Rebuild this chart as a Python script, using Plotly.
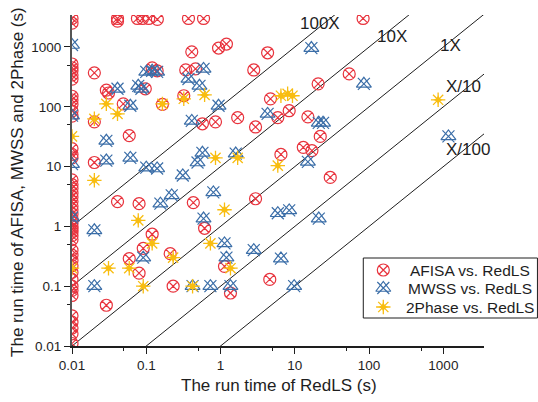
import plotly.graph_objects as go

# ---------------- data (seconds) ----------------
afisa_x = [0.041, 0.041, 0.076, 0.089, 0.108, 0.141, 0.37, 0.59, 83,
           0.94, 1.2, 0.41, 4.3, 2.8, 54, 20.6, 4.7, 5.9, 8.4, 15, 22, 13, 17, 6.5, 30,
           2.96, 2.96, 0.61, 0.57, 0.855, 1.7, 0.02, 0.029, 0.031, 0.049, 0.12, 0.14,
           0.097, 0.32, 0.34, 0.46, 0.165, 0.02, 0.059, 0.02, 0.041, 0.08, 0.43, 0.12,
           0.091, 0.059, 0.08, 0.21, 0.23, 0.029, 1.13, 1.36, 4.6,
           0.01, 0.01, 0.01, 0.01, 0.01, 0.01, 0.01, 0.01, 0.01, 0.01, 0.01, 0.01,
           0.01, 0.01, 0.01, 0.01, 0.01, 0.01, 0.01, 0.01, 0.01, 0.01, 0.01, 0.01,
           0.01, 0.01, 0.01, 0.01, 0.01, 0.01, 0.01, 0.01, 0.01, 0.01, 0.01, 0.01,
           0.01, 0.01, 0.01, 0.01, 0.01, 0.01, 0.01, 0.01, 0.01]
afisa_y = [3000, 2700, 3000, 3000, 3000, 2900, 3000, 3000, 3000,
           960, 1120, 830, 800, 413, 355, 242, 136, 66, 86, 68, 32, 21, 18.5, 16, 6.6,
           46, 2.9, 0.93, 52, 56, 66, 370, 190, 170, 112, 447, 400,
           200, 153, 414, 430, 110, 56, 33, 11.7, 2.6, 2.4, 2.5, 0.74,
           0.43, 0.29, 0.165, 0.35, 0.1, 0.048, 0.215, 0.077, 0.13,
           3000, 2500, 520, 450, 400, 340, 290, 150, 130, 110, 85, 70,
           20, 16, 14, 6, 5, 4.3, 3.6, 3.1, 2.6, 2.2, 1.9, 1.6,
           1.35, 1.15, 1.0, 0.9, 0.8, 0.7, 0.6, 0.4, 0.33, 0.27, 0.22, 0.17,
           0.13, 0.1, 0.085, 0.07, 0.032, 0.025, 0.02, 0.016, 0.011]

mwss_x = [0.01, 0.01, 0.01, 0.01,
          0.041, 0.078, 0.086, 0.1, 0.12, 0.14, 0.061, 0.37, 0.59, 0.52, 0.41, 0.94,
          0.029, 0.029, 0.061, 0.1, 0.14, 0.31, 0.49, 0.57, 0.22, 0.8, 1.6, 0.155,
          0.02, 0.59, 0.02, 0.091, 0.42, 0.73, 1.36, 1.13, 1.2, 2.8, 6.5, 9.8,
          5.9, 8.4, 21, 15, 21, 24, 4.3, 16.7, 85, 1170]
mwss_y = [1080, 71, 11, 1.4,
          200, 224, 200, 383, 400, 383, 104, 292, 430, 224, 58, 104,
          27, 12.6, 14, 9.6, 9.3, 7.1, 11.7, 17, 3.3, 3.7, 16.5, 2.4,
          0.86, 1.35, 0.1, 0.3, 0.1, 0.1, 0.1, 0.52, 0.3, 0.4, 0.29, 0.1,
          1.66, 1.85, 1.35, 12, 54, 54, 76, 960, 242, 32]

twophase_x = [0.02, 0.029, 0.041, 0.165, 0.32, 0.61, 0.02, 0.855, 1.7, 5.9,
              1.13, 6.5, 8.0, 9.3, 850, 0.078, 0.01, 0.12, 0.031, 0.059,
              0.091, 0.23, 0.42, 0.73, 1.36, 0.01]
twophase_y = [63, 112, 76, 112, 136, 158, 5.9, 14, 14, 10.4,
              1.9, 153, 165, 153, 131, 1.26, 32, 0.52, 0.2, 0.2,
              0.1, 0.3, 0.1, 0.52, 0.2, 0.2]

ratio_factors = [100, 10, 1, 0.1, 0.01]
ratio_labels = ["100X", "10X", "1X", "X/10", "X/100"]
line_x = [0.01, 5000]

x_ticks = [0.01, 0.1, 1, 10, 100, 1000]
x_ticktext = ["0.01", "0.1", "1", "10", "100", "1000"]
y_ticks = [0.01, 0.1, 1, 10, 100, 1000]
y_ticktext = ["0.01", "0.1", "1", "10", "100", "1000"]
minor_ticks = [0.05, 0.5, 5, 50, 500]

series_names = ["AFISA vs. RedLS", "MWSS vs. RedLS", "2Phase vs. RedLS"]

# ---------------- styles ----------------
RED = "#e8333d"
BLUE = "#3b6ea8"
YELLOW = "#f8bd10"
INK = "#1e1e1e"
FONT = "Arial, 'Liberation Sans', sans-serif"

# layout geometry (pixels)
W, H = 538, 402
ML, MR, MT, MB = 72, 54.4, 15, 56
PW, PH = W - ML - MR, H - MT - MB


def px2paper(px, py):
    return (px - ML) / PW, (H - MB - py) / PH


fig = go.Figure()

# diagonal reference lines
for k in ratio_factors:
    fig.add_trace(go.Scatter(x=line_x, y=[k * v for v in line_x], mode="lines",
                             line=dict(color=INK, width=1), hoverinfo="skip",
                             showlegend=False))

red_marker = dict(symbol="circle-x-open", size=12, color=RED, line=dict(width=1.2, color=RED))
blue_tri = dict(symbol="triangle-up-open", size=13, color=BLUE, line=dict(width=1.2, color=BLUE))
blue_x = dict(symbol="x-thin-open", size=12, color=BLUE, line=dict(width=1.2, color=BLUE))
yel_ast = dict(symbol="asterisk-open", size=12, color=YELLOW, line=dict(width=1.3, color=YELLOW))
yel_star = dict(symbol="star-diamond", size=7, color=YELLOW, line=dict(width=0, color=YELLOW))

fig.add_trace(go.Scatter(x=afisa_x, y=afisa_y, mode="markers", marker=red_marker, showlegend=False))
fig.add_trace(go.Scatter(x=mwss_x, y=mwss_y, mode="markers", marker=blue_tri, showlegend=False))
fig.add_trace(go.Scatter(x=mwss_x, y=mwss_y, mode="markers", marker=blue_x, showlegend=False))
fig.add_trace(go.Scatter(x=twophase_x, y=twophase_y, mode="markers", marker=yel_ast, showlegend=False))
fig.add_trace(go.Scatter(x=twophase_x, y=twophase_y, mode="markers", marker=yel_star, showlegend=False))

# custom legend (symbols on an overlay paper-like axis)
leg_sym_px = 383
leg_text_px = 470
leg_rows_py = [270, 288, 307]
sym_sets = [[red_marker], [blue_tri, blue_x], [yel_ast, yel_star]]
for row_py, syms in zip(leg_rows_py, sym_sets):
    sx, sy = px2paper(leg_sym_px, row_py)
    for m in syms:
        fig.add_trace(go.Scatter(x=[sx], y=[sy], xaxis="x2", yaxis="y2", mode="markers",
                                 marker=m, showlegend=False, hoverinfo="skip", cliponaxis=False))

annotations = []
for row_py, name in zip(leg_rows_py, series_names):
    tx, ty = px2paper(leg_text_px, row_py)
    annotations.append(dict(x=tx, y=ty, xref="paper", yref="paper", text=name, showarrow=False,
                            xanchor="center", yanchor="middle",
                            font=dict(size=15.5, color=INK, family=FONT)))

bx0, by0 = px2paper(363, 318)
bx1, by1 = px2paper(537, 258)
shapes = [dict(type="rect", xref="paper", yref="paper", x0=bx0, y0=by0, x1=bx1, y1=by1,
               line=dict(color=INK, width=1), fillcolor="rgba(255,255,255,0)")]

# ratio line labels
label_px = [(320, 23), (392, 36), (450, 45), (463, 87), (468, 149)]
for (lx, ly), lab in zip(label_px, ratio_labels):
    ax_, ay_ = px2paper(lx, ly)
    annotations.append(dict(x=ax_, y=ay_, xref="paper", yref="paper", text=lab, showarrow=False,
                            xanchor="center", yanchor="middle",
                            font=dict(size=17, color=INK, family=FONT)))

# axis titles
tx, ty = px2paper(278.5, 385)
annotations.append(dict(x=tx, y=ty, xref="paper", yref="paper", text="The run time of RedLS (s)",
                        showarrow=False, xanchor="center", yanchor="middle",
                        font=dict(size=17, color=INK, family=FONT)))
tx, ty = px2paper(17, 182)
annotations.append(dict(x=tx, y=ty, xref="paper", yref="paper",
                        text="The run time of AFISA, MWSS and 2Phase (s)", textangle=-90,
                        showarrow=False, xanchor="center", yanchor="middle",
                        font=dict(size=17, color=INK, family=FONT)))

axis_common = dict(type="log", showgrid=False, zeroline=False, ticks="outside", ticklen=6,
                   tickwidth=1.3, tickcolor=INK, showline=True,
                   tickfont=dict(size=13.5, color=INK, family=FONT),
                   minor=dict(tickvals=minor_ticks, ticks="outside", ticklen=3, tickwidth=1.3,
                              tickcolor=INK, showgrid=False))

fig.update_layout(
    width=W, height=H,
    margin=dict(l=ML, r=MR, t=MT, b=MB, pad=0),
    paper_bgcolor="white", plot_bgcolor="white",
    showlegend=False,
    font=dict(family=FONT, color=INK),
    xaxis=dict(axis_common, range=[-2, 3.547], tickvals=x_ticks, ticktext=x_ticktext,
               linecolor=INK, linewidth=1.5),
    yaxis=dict(axis_common, range=[-2, 3.535], tickvals=y_ticks, ticktext=y_ticktext,
               linecolor="#555555", linewidth=2),
    xaxis2=dict(overlaying="x", range=[0, 1], visible=False, fixedrange=True),
    yaxis2=dict(overlaying="y", range=[0, 1], visible=False, fixedrange=True),
    annotations=annotations,
    shapes=shapes,
)

fig.write_html("out.html", config={"displayModeBar": False},
               post_script="document.body.style.margin='0px';document.body.style.overflow='hidden';")
